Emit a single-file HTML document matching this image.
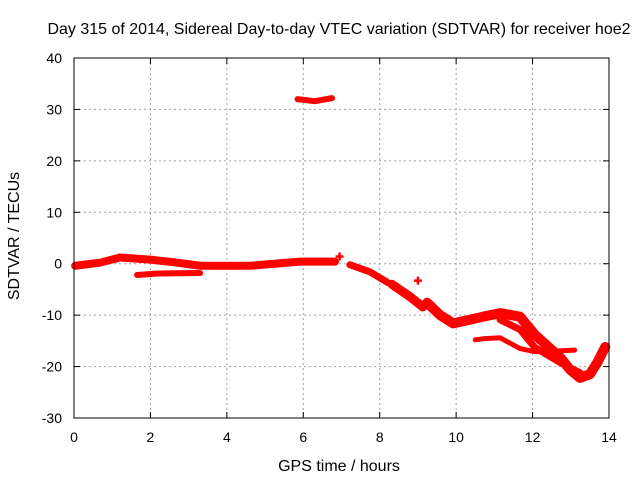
<!DOCTYPE html>
<html><head><meta charset="utf-8"><style>
body{margin:0;background:#fff}
svg text{font-family:"Liberation Sans",sans-serif;font-size:14px;fill:#000}
svg text.big{font-size:16px}
</style></head><body>
<svg id="c" width="640" height="480">
<g id="grid"></g>
<g id="ticks"></g>
<g id="series"></g>
<rect x="74" y="58" width="535" height="360" fill="none" stroke="#000"/>
<text class="big" x="339" y="34" text-anchor="middle">Day 315 of 2014, Sidereal Day-to-day VTEC variation (SDTVAR) for receiver hoe2</text>
<text class="big" x="339" y="471" text-anchor="middle">GPS time / hours</text>
<text class="big" transform="translate(19,236) rotate(-90)" text-anchor="middle">SDTVAR / TECUs</text>
</svg>
<script>
const xTicks=[0,2,4,6,8,10,12,14];
const yTicks=[-30,-20,-10,0,10,20,30,40];
const segMain=[[0.03,-0.4],[0.68,0.2],[1.2,1.2],[1.99,0.8],[2.6,0.3],[3.3,-0.4],[4.6,-0.4],[5.91,0.4],[6.83,0.4]];
const segLow=[[1.65,-2.2],[2.2,-1.9],[3.3,-1.8]];
const segOut=[[5.85,32.0],[6.3,31.6],[6.75,32.2]];
const segDrop=[[7.22,-0.2],[7.75,-1.6],[8.22,-3.7]];
const segDrop2=[[8.32,-4.0],[8.79,-6.4],[9.13,-8.4]];
const segMid=[[9.24,-7.6],[9.58,-10.0],[9.92,-11.6],[10.36,-10.9],[10.7,-10.3],[11.15,-9.6],[11.67,-10.3],[12.06,-13.8],[12.72,-18.2],[12.98,-20.6],[13.24,-22.2],[13.5,-21.5],[13.71,-19.0],[13.9,-16.2]];
const segMid2=[[11.15,-10.9],[11.67,-12.8],[12.06,-16.3],[12.72,-19.2],[13.24,-21.2]];
const segLow2=[[10.5,-14.8],[10.7,-14.6],[11.15,-14.4],[11.67,-16.5],[12.06,-17.1],[12.33,-17.1],[13.1,-16.8]];
const segDots=[[6.95,1.4],[9.0,-3.3]];
const X=v=>74+v*535/14, Y=v=>418-(v+30)*360/70;
const ns='http://www.w3.org/2000/svg';
function mk(t,p,a){const e=document.createElementNS(ns,t);for(const k in a)e.setAttribute(k,a[k]);p.appendChild(e);return e;}
const g=document.getElementById('grid'),tk=document.getElementById('ticks'),s=document.getElementById('series');
xTicks.forEach(v=>{
 if(v>0&&v<14){const l=mk('line',g,{x1:X(v),x2:X(v),y1:58,y2:418,stroke:'#a0a0a0','stroke-dasharray':'2,3'});
 
 }
 mk('line',tk,{x1:X(v),x2:X(v),y1:418,y2:412,stroke:'#000'});mk('line',tk,{x1:X(v),x2:X(v),y1:58,y2:64,stroke:'#000'});
 const t=mk('text',tk,{x:X(v),y:442,'text-anchor':'middle'});t.textContent=v;
 
 
});
yTicks.forEach(v=>{
 if(v>-30&&v<40){const l=mk('line',g,{x1:74,x2:609,y1:Y(v),y2:Y(v),stroke:'#a0a0a0','stroke-dasharray':'2,3'});
 
 }
 mk('line',tk,{x1:74,x2:80,y1:Y(v),y2:Y(v),stroke:'#000'});mk('line',tk,{x1:609,x2:603,y1:Y(v),y2:Y(v),stroke:'#000'});
 const t=mk('text',tk,{x:62,y:Y(v)+5,'text-anchor':'end'});t.textContent=v;
 
 
});
[[segMain,8],[segLow,6],[segOut,6],[segDrop,7],[segDrop2,9],[segMid,10],[segMid2,7],[segLow2,5]].forEach(([d,w])=>{
 const p=mk('polyline',s,{points:d.map(q=>X(q[0])+','+Y(q[1])).join(' '),fill:'none',stroke:'#ff0000','stroke-width':w,'stroke-linejoin':'round','stroke-linecap':'round'});
 
 
});
segDots.forEach(q=>{
 const p=mk('path',s,{d:`M${X(q[0])-4},${Y(q[1])}h8M${X(q[0])},${Y(q[1])-4}v8`,stroke:'#ff0000','stroke-width':2.5});
 
 
});
</script>
</body></html>
